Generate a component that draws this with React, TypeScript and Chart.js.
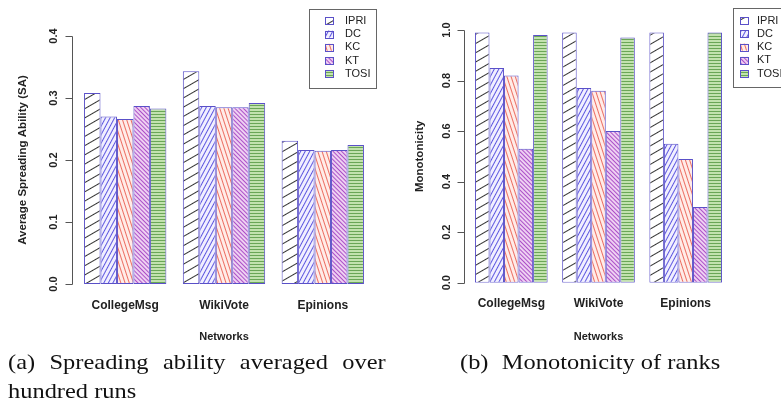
import React, { useEffect, useRef } from 'react';
import { Chart, registerables } from 'chart.js';

Chart.register(...registerables);

// ---------- data ----------
const networks = ['CollegeMsg', 'WikiVote', 'Epinions'];
const methods = ['IPRI', 'DC', 'KC', 'KT', 'TOSI'];

// (a) average spreading ability
const saIPRI = [0.308, 0.343, 0.231];
const saDC = [0.27, 0.287, 0.216];
const saKC = [0.266, 0.285, 0.215];
const saKT = [0.287, 0.285, 0.216];
const saTOSI = [0.283, 0.292, 0.224];
const saTicks = [0, 0.1, 0.2, 0.3, 0.4];
const saTickLabels = ['0.0', '0.1', '0.2', '0.3', '0.4'];

// (b) monotonicity
const monoIPRI = [0.99, 0.99, 0.99];
const monoDC = [0.85, 0.77, 0.55];
const monoKC = [0.82, 0.76, 0.49];
const monoKT = [0.53, 0.6, 0.3];
const monoTOSI = [0.98, 0.97, 0.99];
const monoTicks = [0, 0.2, 0.4, 0.6, 0.8, 1.0];
const monoTickLabels = ['0.0', '0.2', '0.4', '0.6', '0.8', '1.0'];

// ---------- styles ----------
const SANS = '"Liberation Sans", Arial, Helvetica, sans-serif';
const BORDER = '#5a50c8';
const hatches = [
  { bg: '#ffffff', line: '#333333', angle: -30, gap: 8, lw: 1 },
  { bg: '#f1efff', line: '#5d57e0', angle: -62, gap: 4, lw: 1 },
  { bg: '#ffece8', line: '#ec6e62', angle: 72, gap: 4, lw: 1 },
  { bg: '#eed0f2', line: '#ac50c8', angle: 45, gap: 3, lw: 1 },
  { bg: '#c2e2ae', line: '#6aa656', angle: 0, gap: 3, lw: 1 },
];

function makePattern(h: any): CanvasPattern | string {
  const c = document.createElement('canvas');
  c.width = 8;
  c.height = h.gap;
  const g = c.getContext('2d');
  if (!g) return h.bg;
  g.fillStyle = h.bg;
  g.fillRect(0, 0, 8, h.gap);
  g.fillStyle = h.line;
  g.fillRect(0, 0, 8, h.lw);
  const p = g.createPattern(c, 'repeat');
  if (!p) return h.bg;
  if (h.angle) p.setTransform(new DOMMatrix().rotateSelf(h.angle));
  return p;
}

// R-style y axis: line spanning tick range, outward ticks
const rAxisPlugin = {
  id: 'rAxis',
  afterDraw(chart: any, _args: any, o: any) {
    const { ctx, chartArea, scales } = chart;
    const y = scales.y;
    const x = scales.x;
    const unit = (x.getPixelForValue(1) - x.getPixelForValue(0)) / 6;
    const ax = Math.round(chartArea.left - o.shift * unit) + 0.5;
    const ticks = y.ticks;
    const top = Math.round(y.getPixelForValue(ticks[ticks.length - 1].value)) + 0.5;
    const bottom = Math.round(y.getPixelForValue(ticks[0].value)) + 0.5;
    ctx.save();
    ctx.strokeStyle = '#555';
    ctx.lineWidth = 1;
    ctx.beginPath();
    ctx.moveTo(ax, top);
    ctx.lineTo(ax, bottom);
    ticks.forEach((t: any) => {
      const py = Math.round(y.getPixelForValue(t.value)) + 0.5;
      ctx.moveTo(ax, py);
      ctx.lineTo(ax - o.tick, py);
    });
    ctx.stroke();
    ctx.restore();
  },
};

// R-style boxed legend
const rLegendPlugin = {
  id: 'rLegend',
  afterDraw(chart: any, _args: any, o: any) {
    const ctx = chart.ctx;
    ctx.save();
    ctx.strokeStyle = '#666';
    ctx.lineWidth = 1;
    ctx.strokeRect(o.x + 0.5, o.y + 0.5, o.w, o.h);
    ctx.font = `${o.fontSize}px ${SANS}`;
    ctx.textBaseline = 'middle';
    ctx.textAlign = 'left';
    chart.data.datasets.forEach((ds: any, i: number) => {
      const cy = o.y + o.first + i * o.row;
      ctx.fillStyle = ds.backgroundColor;
      ctx.fillRect(o.x + o.sx, cy - 3.5, 8, 7);
      ctx.strokeStyle = ds.borderColor;
      ctx.strokeRect(o.x + o.sx + 0.5, Math.round(cy - 3.5) + 0.5, 8, 7);
      ctx.fillStyle = '#222';
      ctx.fillText(ds.label, o.x + o.tx, cy);
    });
    ctx.restore();
  },
};

function buildConfig(p: any): any {
  const patterns = hatches.map(makePattern);
  return {
    type: 'bar',
    data: {
      labels: networks,
      datasets: methods.map((m, i) => ({
        label: m,
        data: p.series[i],
        backgroundColor: patterns[i],
        borderColor: BORDER,
        borderWidth: 1,
        borderSkipped: false,
        categoryPercentage: 5 / 6,
        barPercentage: 1,
      })),
    },
    plugins: [rAxisPlugin, rLegendPlugin],
    options: {
      responsive: false,
      animation: false,
      events: [],
      layout: { padding: { left: 0, top: p.top, right: p.right, bottom: 0 } },
      plugins: {
        legend: { display: false },
        tooltip: { enabled: false },
        rAxis: { shift: 0.25, tick: 7 },
        rLegend: p.legend,
      },
      scales: {
        x: {
          grid: { display: false, drawTicks: false },
          border: { display: false },
          ticks: {
            color: '#222',
            padding: 14,
            font: { family: SANS, size: 12, weight: 'bold' },
          },
          title: {
            display: true,
            text: 'Networks',
            color: '#222',
            padding: { top: 0, bottom: 6 },
            font: { family: SANS, size: 11, weight: 'bold' },
          },
          afterFit: (s: any) => {
            s.height = p.xHeight;
          },
        },
        y: {
          min: 0,
          max: p.ticks[p.ticks.length - 1],
          grid: { display: false, drawTicks: false },
          border: { display: false },
          afterBuildTicks: (s: any) => {
            s.ticks = p.ticks.map((v: number) => ({ value: v }));
          },
          ticks: {
            color: '#222',
            minRotation: 90,
            maxRotation: 90,
            crossAlign: 'center',
            padding: p.tickPad,
            font: { family: SANS, size: 11, weight: 'bold' },
            callback: (_v: any, idx: number) => p.tickLabels[idx],
          },
          title: {
            display: true,
            text: p.yTitle,
            color: '#222',
            padding: { top: p.titlePad, bottom: 0 },
            font: { family: SANS, size: 11.5, weight: 'bold' },
          },
          afterFit: (s: any) => {
            s.width = p.yWidth;
          },
        },
      },
    },
  };
}

function BarChart(props: any) {
  const ref = useRef<HTMLCanvasElement>(null);
  useEffect(() => {
    if (!ref.current) return;
    const chart = new Chart(ref.current, buildConfig(props.params));
    return () => chart.destroy();
  }, []);
  return (
    <canvas
      ref={ref}
      width={props.width}
      height={props.height}
      style={{ position: 'absolute', left: props.left, top: 0, width: props.width, height: props.height }}
    />
  );
}

const paramsA = {
  series: [saIPRI, saDC, saKC, saKT, saTOSI],
  ticks: saTicks,
  tickLabels: saTickLabels,
  yTitle: 'Average Spreading Ability (SA)',
  top: 36,
  right: 17.8,
  xHeight: 66,
  yWidth: 75.8,
  tickPad: 14,
  titlePad: 16,
  legend: { x: 309, y: 9, w: 67, h: 79, sx: 16, tx: 36, first: 11.7, row: 13.3, fontSize: 11 },
};

const paramsB = {
  series: [monoIPRI, monoDC, monoKC, monoKT, monoTOSI],
  ticks: monoTicks,
  tickLabels: monoTickLabels,
  yTitle: 'Monotonicity',
  top: 30,
  right: 51.7,
  xHeight: 67.3,
  yWidth: 77.7,
  tickPad: 13,
  titlePad: 23,
  legend: { x: 343, y: 8, w: 68, h: 79, sx: 7, tx: 24, first: 12.5, row: 13.3, fontSize: 11 },
};

const captionStyle: any = {
  position: 'absolute',
  fontFamily: '"Liberation Serif", "DejaVu Serif", serif',
  fontSize: 22,
  lineHeight: '29px',
  color: '#111',
  whiteSpace: 'nowrap',
  transform: 'scaleX(1.11)',
  transformOrigin: 'left top',
};

export default function App() {
  return (
    <div style={{ position: 'absolute', left: 0, top: 0, width: 781, height: 407, background: '#fff', overflow: 'hidden' }}>
      <BarChart params={paramsA} left={0} width={390} height={350} />
      <BarChart params={paramsB} left={390} width={391} height={350} />
      <div style={{ ...captionStyle, left: 8, top: 347 }}>
        <span style={{ wordSpacing: '7.5px' }}>(a) Spreading ability averaged over</span>
        <br />
        hundred runs
      </div>
      <div style={{ ...captionStyle, left: 460, top: 347 }}>
        (b)<span style={{ display: 'inline-block', width: 12 }} />Monotonicity of ranks
      </div>
    </div>
  );
}
